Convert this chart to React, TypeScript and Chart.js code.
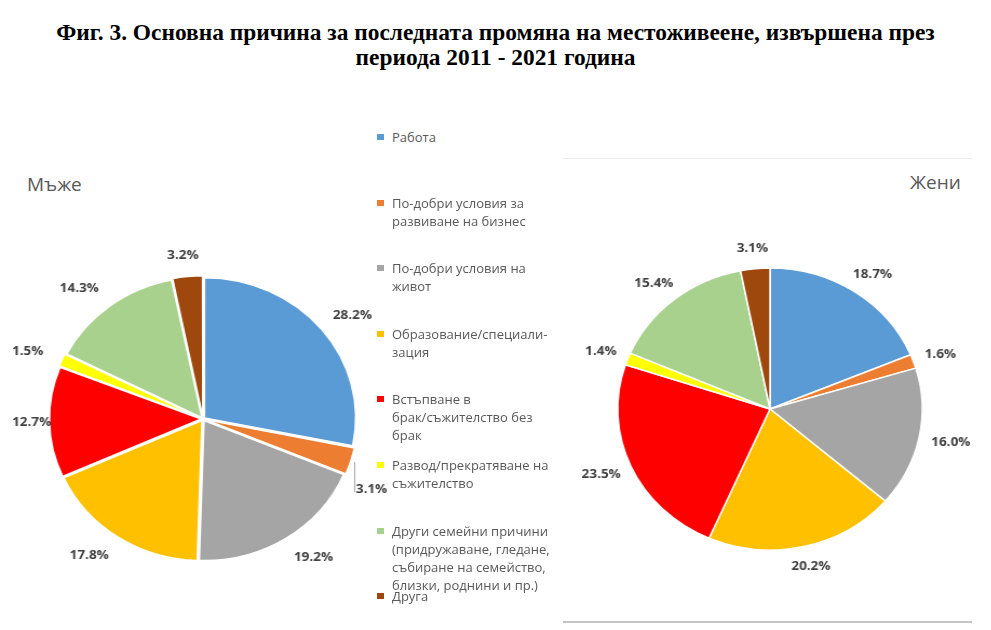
import React, { useEffect, useRef } from "react";
import { Chart, registerables } from "chart.js";

Chart.register(...registerables);

const titleLines = [
  "Фиг. 3. Основна причина за последната промяна на местоживеене, извършена през",
  "периода 2011 - 2021 година",
];

const categories = [
  "Работа",
  "По-добри условия за развиване на бизнес",
  "По-добри условия на живот",
  "Образование/специализация",
  "Встъпване в брак/съжителство без брак",
  "Развод/прекратяване на съжителство",
  "Други семейни причини (придружаване, гледане, събиране на семейство, близки, роднини и пр.)",
  "Друга",
];

const legendLines: string[][] = [
  ["Работа"],
  ["По-добри условия за", "развиване на бизнес"],
  ["По-добри условия на", "живот"],
  ["Образование/специали-", "зация"],
  ["Встъпване в", "брак/съжителство без", "брак"],
  ["Развод/прекратяване на", "съжителство"],
  ["Други семейни причини", "(придружаване, гледане,", "събиране на семейство,", "близки, роднини и пр.)"],
  ["Друга"],
];

const colors = ["#5B9BD5", "#ED7D31", "#A5A5A5", "#FFC000", "#FF0000", "#FFFF00", "#A9D18E", "#9E480E"];

const menValues = [28.2, 3.1, 19.2, 17.8, 12.7, 1.5, 14.3, 3.2];
const womenValues = [18.7, 1.6, 16.0, 20.2, 23.5, 1.4, 15.4, 3.1];

const menTitle = "Мъже";
const womenTitle = "Жени";

const SX = 1.08;

const outLabels = {
  id: "outLabels",
  afterDatasetsDraw(chart: any, _args: any, opts: any) {
    const ctx = chart.ctx;
    const meta = chart.getDatasetMeta(0);
    const data = chart.data.datasets[0].data as number[];
    ctx.save();
    ctx.font = 'bold 12.5px "Open Sans"';
    ctx.fillStyle = "#404040";
    ctx.textBaseline = "middle";
    meta.data.forEach((arc: any, i: number) => {
      const p = arc.getProps(["x", "y", "startAngle", "endAngle", "outerRadius"], true);
      const mid = (p.startAngle + p.endAngle) / 2;
      const dx = Math.cos(mid);
      const dy = Math.sin(mid);
      const text = data[i].toFixed(1) + "%";
      const w = ctx.measureText(text).width;
      const h = 13;
      const off = opts.offset || 0;
      if (opts.leader && opts.leader.index === i) {
        const ex = p.x + dx * (p.outerRadius + off);
        const ey = p.y + dy * (p.outerRadius + off);
        const ly = ey + opts.leader.dy;
        ctx.strokeStyle = "#a6a6a6";
        ctx.lineWidth = 1;
        ctx.beginPath();
        ctx.moveTo(ex, ey);
        ctx.lineTo(ex, ly + 3);
        ctx.stroke();
        ctx.textAlign = "left";
        ctx.fillStyle = "#404040";
        ctx.fillText(text, ex + 1, ly);
        return;
      }
      const base = p.outerRadius + off;
      let x = p.x + dx * (base + opts.gx + w / 2);
      const y = p.y + dy * (base + opts.gy + h / 2);
      if (opts.minX != null) x = Math.max(x, opts.minX + w / 2);
      if (opts.maxX != null) x = Math.min(x, opts.maxX - w / 2);
      ctx.textAlign = "center";
      ctx.fillStyle = "#404040";
      ctx.fillText(text, x, y);
    });
    ctx.restore();
  },
};

function Pie(props: {
  values: number[];
  radius: number;
  offset: number;
  border: number;
  gx: number;
  gy: number;
  cx: number;
  cy: number;
  w: number;
  h: number;
  minScreenX?: number;
  maxScreenX?: number;
  leader?: { index: number; dy: number };
}) {
  const ref = useRef<HTMLCanvasElement>(null);
  useEffect(() => {
    if (!ref.current) return;
    const toCanvas = (sx?: number) => (sx == null ? null : props.w / 2 + (sx - props.cx) / SX);
    const chart = new Chart(ref.current, {
      type: "pie",
      data: {
        labels: categories,
        datasets: [
          {
            data: props.values,
            backgroundColor: colors,
            borderColor: "#ffffff",
            borderWidth: props.border,
            offset: props.offset,
          },
        ],
      },
      options: {
        responsive: false,
        maintainAspectRatio: false,
        animation: false,
        events: [],
        radius: props.radius,
        layout: { padding: 0 },
        plugins: {
          legend: { display: false },
          tooltip: { enabled: false },
          title: { display: false },
          outLabels: {
            offset: props.offset,
            gx: props.gx,
            gy: props.gy,
            leader: props.leader,
            minX: toCanvas(props.minScreenX),
            maxX: toCanvas(props.maxScreenX),
          },
        } as any,
      },
      plugins: [outLabels],
    });
    return () => chart.destroy();
  }, []);
  return (
    <div
      style={{
        position: "absolute",
        left: props.cx - props.w / 2,
        top: props.cy - props.h / 2,
        width: props.w,
        height: props.h,
        transform: `scaleX(${SX})`,
        transformOrigin: "50% 50%",
      }}
    >
      <canvas ref={ref} width={props.w} height={props.h} style={{ display: "block" }} />
    </div>
  );
}

export default function App() {
  const legendTop = 137;
  const legendPitch = 65.6;
  return (
    <div
      style={{
        position: "fixed",
        left: 0,
        top: 0,
        width: 991,
        height: 630,
        background: "#ffffff",
        overflow: "hidden",
      }}
    >
      <div
        style={{
          position: "absolute",
          left: 0,
          top: 20,
          width: 991,
          textAlign: "center",
          fontFamily: '"Liberation Serif", serif',
          fontWeight: "bold",
          fontSize: 23.4,
          lineHeight: "25px",
          color: "#000",
        }}
      >
        {titleLines.map((t, i) => (
          <div key={i}>{t}</div>
        ))}
      </div>

      <div
        style={{
          position: "absolute",
          left: 563,
          top: 158,
          width: 409,
          height: 0,
          borderTop: "1px solid #ececec",
        }}
      />
      <div
        style={{
          position: "absolute",
          left: 563,
          top: 621,
          width: 409,
          height: 0,
          borderTop: "2px solid #c4c4c4",
        }}
      />

      <div
        style={{
          position: "absolute",
          left: 27,
          top: 171,
          fontFamily: '"Open Sans", sans-serif',
          fontSize: 19,
          color: "#595959",
          lineHeight: "26px",
        }}
      >
        {menTitle}
      </div>
      <div
        style={{
          position: "absolute",
          left: 910,
          top: 169,
          fontFamily: '"Open Sans", sans-serif',
          fontSize: 19,
          color: "#595959",
          lineHeight: "26px",
        }}
      >
        {womenTitle}
      </div>

      <Pie
        values={menValues}
        radius={140}
        offset={7}
        border={1.5}
        gx={24}
        gy={11}
        cx={203}
        cy={419}
        w={390}
        h={400}
        minScreenX={12}
        maxScreenX={372}
        leader={{ index: 1, dy: 27 }}
      />
      <Pie
        values={womenValues}
        radius={141}
        offset={0}
        border={1.5}
        gx={12}
        gy={14}
        cx={770}
        cy={409}
        w={400}
        h={420}
      />

      {legendLines.map((lines, i) => (
        <div
          key={i}
          style={{
            position: "absolute",
            left: 377,
            top: legendTop + i * legendPitch - 9,
            zIndex: 2,
            fontFamily: '"Open Sans", sans-serif',
            fontSize: 13,
            lineHeight: "18px",
            color: "#595959",
          }}
        >
          <span
            style={{
              position: "absolute",
              left: 0,
              top: 6,
              width: 7,
              height: 6,
              background: colors[i],
            }}
          />
          <div style={{ marginLeft: 15, whiteSpace: "nowrap" }}>
            {lines.map((l, j) => (
              <div key={j}>{l}</div>
            ))}
          </div>
        </div>
      ))}
    </div>
  );
}
